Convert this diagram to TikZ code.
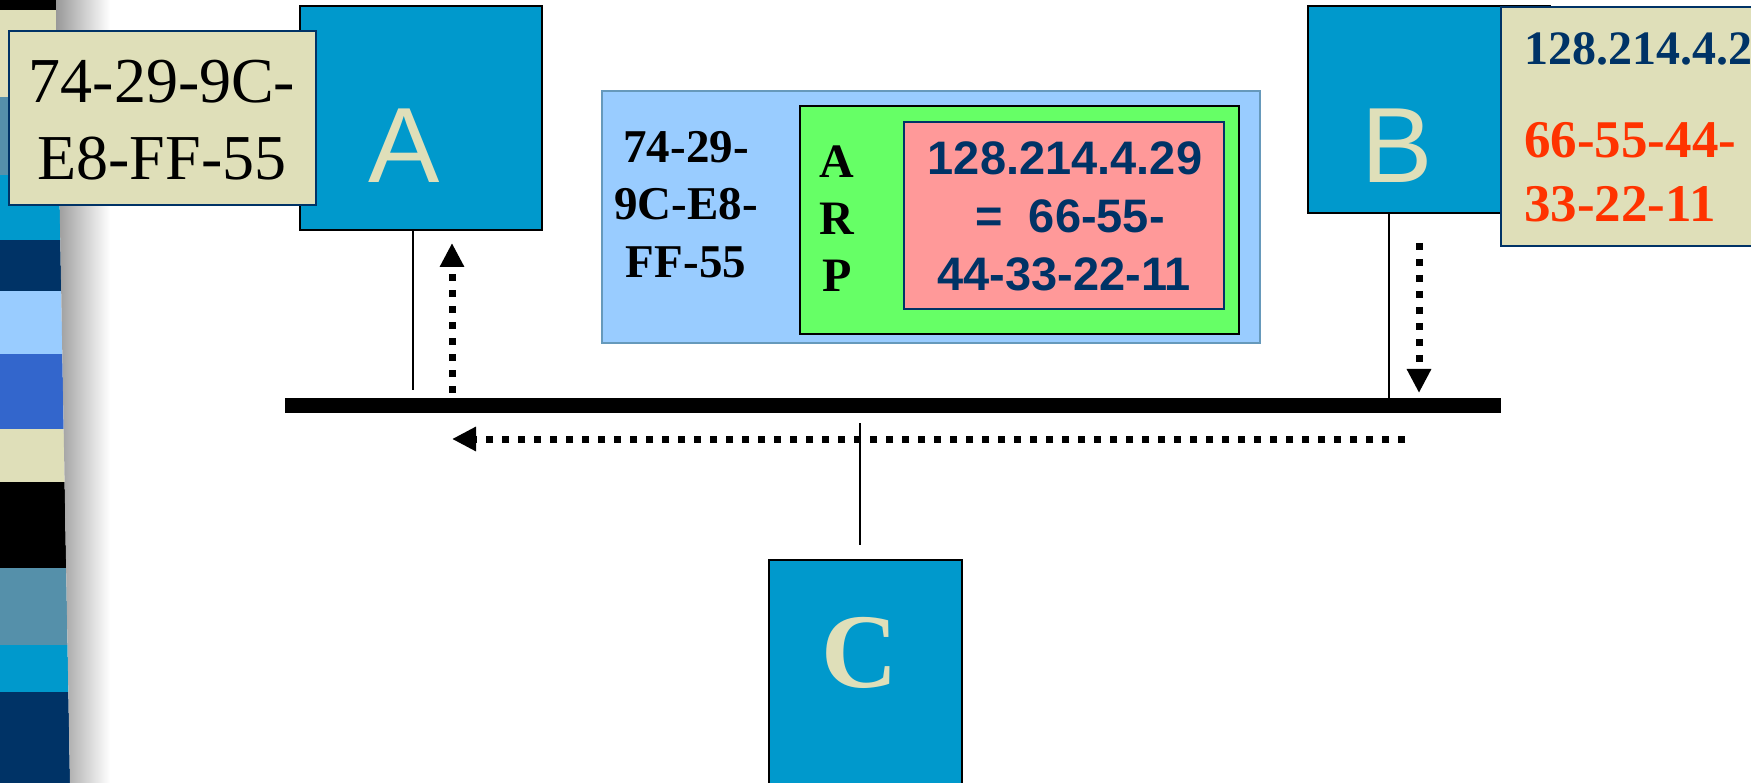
\documentclass[tikz,border=0pt]{standalone}
\usepackage{fontspec}
\setmainfont{Liberation Serif}
\setsansfont{Liberation Sans}
\usetikzlibrary{arrows.meta}
\definecolor{navy}{HTML}{003366}
\definecolor{hostblue}{HTML}{0099CC}
\definecolor{paper}{HTML}{DFDFB9}
\definecolor{sky}{HTML}{99CCFF}
\definecolor{royal}{HTML}{3366CC}
\definecolor{steel}{HTML}{5590AA}
\definecolor{arpgreen}{HTML}{66FF66}
\definecolor{arppink}{HTML}{FF9999}
\definecolor{macred}{HTML}{FF3300}
\definecolor{frameblue}{HTML}{6699BB}

\begin{document}
\begin{tikzpicture}[x=1pt,y=-1pt,
  box/.style={rectangle, inner sep=0pt, outer sep=0pt, anchor=north west},
  host/.style={box, draw=black, line width=2.2pt, fill=hostblue},
  tag/.style={box, draw=navy, line width=1.8pt, fill=paper},
  wire/.style={line width=2pt},
  signal/.style={line width=7pt, dash pattern=on 7pt off 9pt,
    -{Triangle[length=24pt,width=23pt]}},
  hostletter/.style={anchor=base, inner sep=0pt, text=paper},
  txt/.style={anchor=base, inner sep=0pt},
  txtleft/.style={anchor=base west, inner sep=0pt},
  macfont/.style={font=\fontsize{64}{77}\selectfont},
  pktfont/.style={font=\bfseries\fontsize{47}{57}\selectfont},
  ipfont/.style={font=\sffamily\bfseries\fontsize{47}{57}\selectfont, text=navy},
]
\useasboundingbox (0,0) rectangle (1751,783);
\clip (0,0) rectangle (1751,783);

% striped margin on the left
\begin{scope}
  \clip (0,0) -- (56,0) -- (70,783) -- (0,783) -- cycle;
  \fill[black]    (0,0)   rectangle (80,10);
  \fill[paper]    (0,10)  rectangle (80,97);
  \fill[steel]    (0,97)  rectangle (80,175);
  \fill[hostblue] (0,175) rectangle (80,240);
  \fill[navy]     (0,240) rectangle (80,291);
  \fill[sky]      (0,291) rectangle (80,354);
  \fill[royal]    (0,354) rectangle (80,429);
  \fill[paper]    (0,429) rectangle (80,482);
  \fill[black]    (0,482) rectangle (80,568);
  \fill[steel]    (0,568) rectangle (80,645);
  \fill[hostblue] (0,645) rectangle (80,692);
  \fill[navy]     (0,692) rectangle (80,783);
\end{scope}
\begin{scope}
  \clip (56,0) -- (110,0) -- (124,783) -- (70,783) -- cycle;
  \shade[left color=black!40, right color=white] (56,0) rectangle (110,783);
\end{scope}

% host A with its hardware address
\node[host, minimum width=242, minimum height=224] (A) at (300,6) {};
\node[hostletter, font=\sffamily\fontsize{107}{107}\selectfont] (Aname) at (404,183) {A};
\node[tag, minimum width=307, minimum height=174] (Amac) at (9,31) {};
\node[txt, macfont] (Amac1) at (162,103) {74-29-9C-};
\node[txt, macfont] (Amac2) at (162,180) {E8-FF-55};

% host B with its IP and hardware address
\node[host, minimum width=242, minimum height=207] (B) at (1308,6) {};
\node[hostletter, font=\sffamily\fontsize{107}{107}\selectfont] (Bname) at (1397,183) {B};
\node[tag, minimum width=300, minimum height=239] (Bmac) at (1501,7) {};
\node[txtleft, font=\bfseries\fontsize{48}{57}\selectfont, text=navy] (Bip) at (1524,65) {128.214.4.2};
\node[txtleft, font=\bfseries\fontsize{53}{64}\selectfont, text=macred] (Bmac1) at (1524,158) {66-55-44-};
\node[txtleft, font=\bfseries\fontsize{53}{64}\selectfont, text=macred] (Bmac2) at (1524,222) {33-22-11};

% host C
\node[host, minimum width=193, minimum height=260] (C) at (769,560) {};
\node[hostletter, font=\bfseries\fontsize{106}{106}\selectfont] (Cname) at (860,687) {C};

% shared bus
\node[box, fill=black, minimum width=1216, minimum height=15] (bus) at (285,398) {};

% drop cables
\coordinate (Aend) at (413,390);
\coordinate (Ctop) at (860,423);
\coordinate (Cend) at (860,545);
\draw[wire] (A.south -| Aend) -- (Aend);
\draw[wire] (B.south -| 1389,0) -- (bus.north -| 1389,0);
\draw[wire] (Ctop) -- (Cend);

% ARP frame sent by B
\node[box, draw=frameblue, line width=2pt, fill=sky, minimum width=658, minimum height=252] (frame) at (602,91) {};
\node[box, draw=black, line width=2pt, fill=arpgreen, minimum width=439, minimum height=228] (arp) at (800,106) {};
\node[box, draw=navy, line width=2pt, fill=arppink, minimum width=320, minimum height=187] (reply) at (904,122) {};
\node[txt, pktfont] (dst1) at (686,163) {74-29-};
\node[txt, pktfont] (dst2) at (686,220) {9C-E8-};
\node[txt, pktfont] (dst3) at (686,278) {FF-55};
\node[txt, font=\bfseries\fontsize{48}{57}\selectfont] (arpA) at (837,178) {A};
\node[txt, font=\bfseries\fontsize{48}{57}\selectfont] (arpR) at (837,235) {R};
\node[txt, font=\bfseries\fontsize{48}{57}\selectfont] (arpP) at (837,292) {P};
\node[txt, ipfont] (rep1) at (1065,175) {128.214.4.29};
\node[txt, ipfont] (rep2) at (1070,233) {=\hspace{0.56em}66-55-};
\node[txt, ipfont] (rep3) at (1064,291) {44-33-22-11};

% frame travel: B onto the bus, along the bus, up to A
\coordinate (Bsrc) at (1419,243);
\coordinate (Bdst) at (1419,393);
\coordinate (runR) at (1405,439);
\coordinate (runL) at (452,439);
\coordinate (Asrc) at (452,393);
\coordinate (Adst) at (452,243);
\draw[signal] (Bsrc) -- (Bdst);
\draw[signal] (runR) -- (runL);
\draw[signal] (Asrc) -- (Adst);
\end{tikzpicture}
\end{document}
